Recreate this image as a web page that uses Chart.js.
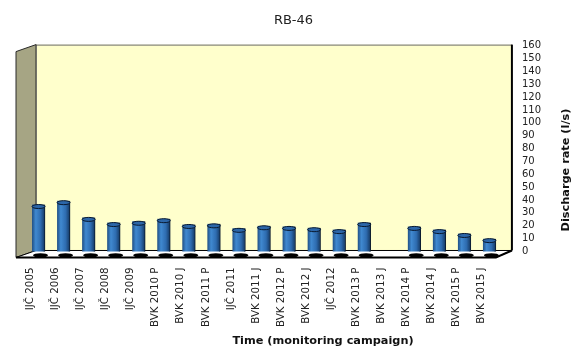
<!DOCTYPE html>
<html>
<head>
<meta charset="utf-8">
<script src="https://cdn.jsdelivr.net/npm/chart.js@4.4.1/dist/chart.umd.min.js"></script>
<style>
  html, body { margin: 0; padding: 0; background: #fff; }
</style>
</head>
<body>
<canvas id="rbChart" width="578" height="350"></canvas>
<script>
// Chart data
const campaigns = [
    "IJČ 2005", "IJČ 2006", "IJČ 2007", "IJČ 2008", "IJČ 2009",
    "BVK 2010 P", "BVK 2010 J", "BVK 2011 P", "IJČ 2011", "BVK 2011 J",
    "BVK 2012 P", "BVK 2012 J", "IJČ 2012", "BVK 2013 P", "BVK 2013 J",
    "BVK 2014 P", "BVK 2014 J", "BVK 2015 P", "BVK 2015 J"
];
const discharge = [
    36.5, 39.5, 26.5, 22.5, 23.5, 25.5, 21, 21.5, 18, 20,
    19.5, 18.5, 17, 22.5, null, 19.5, 17, 14, 10
];
const yTicks = [0, 10, 20, 30, 40, 50, 60, 70, 80, 90, 100, 110, 120, 130, 140, 150, 160];

const chartTitle = "RB-46";
const xTitle = "Time (monitoring campaign)";
const yTitle = "Discharge rate (l/s)";

// Fake 3D box: back wall, left wall and floor
const wallsPlugin = {
    id: "walls",
    beforeDatasetsDraw(chart) {
        const { ctx, chartArea: ca, scales: { y } } = chart;
        const y0 = y.getPixelForValue(yTicks[0]);
        const yTop = y.getPixelForValue(yTicks[yTicks.length - 1]);
        const backL = ca.left + 10, backR = ca.right + 10;
        const frontL = ca.left - 10, frontR = ca.right - 6;
        const backB = y0 - 1, frontB = y0 + 6, backT = yTop - 1;

        ctx.save();
        // back wall
        ctx.fillStyle = "#ffffcc";
        ctx.fillRect(backL, backT, backR - backL, backB - backT);
        ctx.strokeStyle = "#bdbdad";
        ctx.lineWidth = 1;
        ctx.beginPath();
        ctx.moveTo(backL + 0.5, backT);
        ctx.lineTo(backL + 0.5, backB);
        ctx.stroke();
        ctx.strokeStyle = "#6b6b6b";
        ctx.beginPath();
        ctx.moveTo(backL, backT + 0.5);
        ctx.lineTo(backR, backT + 0.5);
        ctx.stroke();
        ctx.strokeStyle = "#000";
        ctx.lineWidth = 2;
        ctx.beginPath();
        ctx.moveTo(backR, backT);
        ctx.lineTo(backR, backB);
        ctx.stroke();

        // left wall
        ctx.fillStyle = "#a6a584";
        ctx.strokeStyle = "#2a2a2a";
        ctx.lineWidth = 1;
        ctx.beginPath();
        ctx.moveTo(frontL, backT + 7);
        ctx.lineTo(backL, backT);
        ctx.lineTo(backL, backB);
        ctx.lineTo(frontL, frontB);
        ctx.closePath();
        ctx.fill();
        ctx.stroke();

        // floor
        ctx.fillStyle = "#fff";
        ctx.beginPath();
        ctx.moveTo(frontL, frontB);
        ctx.lineTo(backL, backB);
        ctx.lineTo(backR, backB);
        ctx.lineTo(frontR, frontB);
        ctx.closePath();
        ctx.fill();
        ctx.strokeStyle = "#000";
        ctx.lineWidth = 1;
        ctx.stroke();
        ctx.lineWidth = 2;
        ctx.beginPath();
        ctx.moveTo(frontL, frontB);
        ctx.lineTo(frontR, frontB);
        ctx.lineTo(backR, backB);
        ctx.stroke();
        ctx.restore();
    },
    afterDatasetsDraw(chart) {
        const { ctx } = chart;
        const meta = chart.getDatasetMeta(0);
        ctx.save();
        meta.data.forEach((bar, i) => {
            if (discharge[i] === null || bar.skip || isNaN(bar.y)) return;
            const w = bar.width;
            // shadow at the foot
            ctx.fillStyle = "#000";
            ctx.beginPath();
            ctx.ellipse(bar.x + 2, bar.base, w / 2 + 1, 2.2, 0, 0, Math.PI * 2);
            ctx.fill();
            // top cap
            ctx.fillStyle = "#2c66a8";
            ctx.strokeStyle = "#0a1a30";
            ctx.lineWidth = 1;
            ctx.beginPath();
            ctx.ellipse(bar.x, bar.y + 2, w / 2, 2, 0, 0, Math.PI * 2);
            ctx.fill();
            ctx.stroke();
        });
        ctx.restore();
    },
    afterDraw(chart) {
        const { ctx } = chart;
        ctx.save();
        ctx.fillStyle = "#111";
        ctx.font = "bold 11.3px 'DejaVu Sans'";
        ctx.textAlign = "center";
        ctx.textBaseline = "middle";
        ctx.fillText(xTitle, 323, 341);
        ctx.translate(566, 170);
        ctx.rotate(-Math.PI / 2);
        ctx.fillText(yTitle, 0, 0);
        ctx.restore();
    }
};

const chartCanvas = document.getElementById("rbChart");

new Chart(chartCanvas, {
    type: "bar",
    data: {
        labels: campaigns,
        datasets: [{
            data: discharge,
            base: -3,
            backgroundColor(c) {
                const chart = c.chart;
                if (c.type === "data" && discharge[c.dataIndex] === null) return "rgba(0,0,0,0)";
                if (!chart.chartArea || c.type !== "data") return "#2f6db2";
                const x = chart.scales.x.getPixelForValue(c.dataIndex);
                const g = chart.ctx.createLinearGradient(x - 7, 0, x + 7, 0);
                g.addColorStop(0, "#1a4679");
                g.addColorStop(0.3, "#4089d0");
                g.addColorStop(0.65, "#2e6cb0");
                g.addColorStop(1, "#102f55");
                return g;
            },
            borderColor: "#0b1b2e",
            borderWidth(c) {
                if (c.type === "data" && discharge[c.dataIndex] === null) return 0;
                return { left: 0, right: 1, top: 0, bottom: 0 };
            },
            borderSkipped: false,
            barThickness: 13
        }]
    },
    options: {
        responsive: false,
        animation: false,
        devicePixelRatio: 1,
        layout: {
            padding: { left: 26, right: 17, top: 0, bottom: 7 }
        },
        plugins: {
            legend: { display: false },
            tooltip: { enabled: false },
            title: {
                display: true,
                text: chartTitle,
                color: "#222",
                font: { family: "'DejaVu Sans'", size: 13, weight: "normal" },
                padding: { top: 13, bottom: 17 }
            }
        },
        scales: {
            x: {
                grid: { display: false, drawTicks: false },
                border: { display: false },
                ticks: {
                    autoSkip: false,
                    minRotation: 90,
                    maxRotation: 90,
                    labelOffset: -8,
                    padding: 16,
                    color: "#222",
                    font: { family: "'DejaVu Sans'", size: 10.3 }
                }
            },
            y: {
                position: "right",
                min: yTicks[0],
                max: yTicks[yTicks.length - 1],
                afterBuildTicks(axis) {
                    axis.ticks = yTicks.map(v => ({ value: v }));
                },
                grid: { display: false, drawTicks: false },
                border: { display: false },
                ticks: {
                    autoSkip: false,
                    padding: 20,
                    color: "#222",
                    font: { family: "'DejaVu Sans'", size: 10 }
                }
            }
        }
    },
    plugins: [wallsPlugin]
});
</script>
</body>
</html>
